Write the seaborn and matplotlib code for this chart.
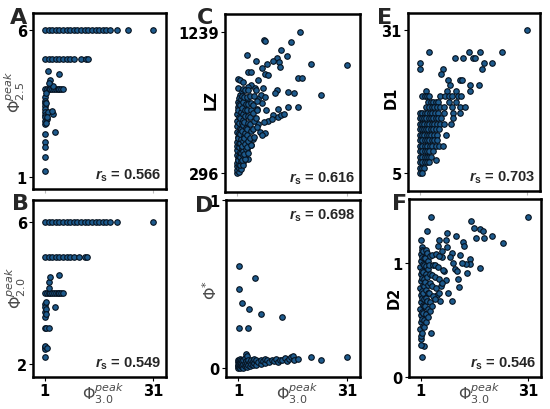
import matplotlib
matplotlib.use("Agg")
import matplotlib.pyplot as plt
import seaborn as sns
import pandas as pd

# ---------------- data ----------------
# Panel A: Phi_peak_3.0 (x) vs Phi_peak_2.5 (y)
a_x = [1, 2, 3, 4, 5, 6, 7, 8, 9, 10, 11, 12, 13, 14, 15, 16, 17, 18, 19, 21, 24, 31,
       1, 2, 3, 4, 5, 6, 7, 8, 9, 11, 12.4, 13,
       1, 1.5, 2, 2.5, 3, 3.5, 4, 4.5, 5, 5.5, 6,
       1.9, 2.4, 5.0, 3.3, 2.1,
       1, 1, 1, 1, 1, 1, 1, 1, 1, 1, 1, 1, 1, 1, 1,
       1.9, 3.3, 3.0, 1.5, 3.8, 1.6, 1.4, 1.3, 1.2]
a_y = [6, 6, 6, 6, 6, 6, 6, 6, 6, 6, 6, 6, 6, 6, 6, 6, 6, 6, 6, 6, 6, 6,
       5, 5, 5, 5, 5, 5, 5, 5, 5, 5, 5, 5,
       4, 4, 4, 4, 4, 4, 4, 4, 4, 4, 4,
       4.6, 4.3, 4.5, 4.1, 4.2,
       3.71, 3.6, 3.5, 3.43, 3.32, 3.2, 3.1, 3.04, 2.92, 2.81, 2.47, 2.19, 2.02, 1.68, 1.19,
       3.2, 3.15, 3.25, 2.98, 2.53, 3.05, 3.5, 2.85, 3.85]

# Panel B: Phi_peak_3.0 (x) vs Phi_peak_2.0 (y)
b_x = [1, 2, 3, 4, 5, 6, 7, 8, 9, 10, 11, 12, 13, 14, 15, 16, 17, 18, 19, 21, 31,
       1, 2, 3, 4, 5, 6, 7, 8, 9, 10.5, 12, 12.6,
       1, 1.5, 2, 2.5, 3, 3.5, 4, 4.5, 5, 5.5, 6,
       2.2, 2.4, 5.0, 2.0,
       1, 1, 1, 1, 1, 1, 1, 1,
       1.3, 1.4, 3.75, 1.3, 2.2, 1.1, 1.2, 1.5]
b_y = [6, 6, 6, 6, 6, 6, 6, 6, 6, 6, 6, 6, 6, 6, 6, 6, 6, 6, 6, 6, 6,
       5, 5, 5, 5, 5, 5, 5, 5, 5, 5, 5, 5,
       4, 4, 4, 4, 4, 4, 4, 4, 4, 4, 4,
       4.3, 4.45, 4.5, 4.15,
       3.69, 3.6, 3.46, 3.32, 3.0, 2.47, 2.42, 2.19,
       3.55, 3.4, 3.6, 3.0, 3.0, 2.5, 3.75, 2.44]

# Panel C: Phi_peak_3.0 (x) vs LZ (y)
c_points = [
    (18.2, 1239), (8.3, 1183), (8.6, 1176), (15.7, 1169), (12.9, 1120), (3.6, 1086),
    (11.8, 1064), (14.5, 1075), (6.1, 1048), (10.9, 1046), (12.3, 1037), (21.1, 1023),
    (31.0, 1019), (7.7, 997), (9.1, 1023), (12.6, 1006), (4.0, 970), (4.9, 970),
    (8.6, 961), (9.3, 954), (1.3, 925), (1.8, 918), (17.7, 929), (18.6, 934), (6.7, 918),
    (4.9, 884), (4.0, 873), (5.8, 862), (8.0, 866), (6.2, 850), (1.2, 862), (11.8, 851),
    (15.0, 839), (1.7, 817), (16.4, 828), (23.9, 817), (7.5, 817), (11.3, 828), (3.6, 794),
    (6.8, 794), (8.6, 805), (1.3, 772), (7.7, 761), (12.2, 727), (14.9, 738), (17.6, 738),
    (9.0, 716), (6.3, 727), (10.7, 682), (12.1, 671), (13.0, 682), (13.9, 693), (9.5, 642),
    (8.2, 637), (10.4, 660), (6.8, 626), (7.2, 570), (8.6, 565), (7.7, 548), (5.4, 525),
    (4.7, 480), (3.6, 457), (2.6, 368), (4.0, 390), (3.1, 412),
    (1.0, 296), (1.1, 318), (0.9, 342), (1.0, 365), (1.2, 392), (1.0, 418), (0.9, 447),
    (1.1, 475), (1.0, 503), (1.2, 536), (1.0, 571), (0.9, 608), (1.1, 645), (1.0, 690),
    (1.2, 735), (1.5, 305), (1.4, 331), (1.6, 356), (1.3, 384), (1.5, 411), (1.7, 439),
    (1.4, 468), (1.6, 497), (1.3, 529), (1.5, 562), (1.7, 598), (1.4, 633), (1.6, 672),
    (1.3, 714), (1.5, 756), (1.4, 800), (2.0, 322), (1.9, 350), (2.1, 378), (1.8, 405),
    (2.0, 433), (2.2, 462), (1.9, 494), (2.1, 526), (1.8, 559), (2.0, 593), (2.2, 628),
    (1.9, 667), (2.1, 705), (1.8, 748), (2.0, 792), (2.2, 843), (2.6, 352), (2.4, 384),
    (2.7, 414), (2.5, 446), (2.3, 478), (2.6, 511), (2.8, 545), (2.4, 580), (2.6, 616),
    (2.5, 652), (2.7, 690), (2.4, 729), (2.6, 770), (2.3, 812), (2.5, 858), (2.7, 905),
    (3.2, 387), (3.0, 421), (3.3, 455), (3.1, 491), (2.9, 527), (3.2, 563), (3.4, 600),
    (3.0, 638), (3.2, 676), (3.1, 716), (3.3, 757), (3.0, 802), (3.2, 848), (3.9, 430),
    (3.7, 468), (4.0, 508), (3.8, 549), (3.6, 590), (3.9, 632), (4.1, 674), (3.7, 717),
    (3.9, 760), (3.8, 806), (4.0, 852), (4.7, 486), (4.5, 530), (4.8, 576), (4.6, 622),
    (4.4, 668), (4.7, 714), (4.9, 762), (4.5, 812), (5.5, 538), (5.3, 590), (5.6, 644),
    (5.4, 698), (5.2, 752), (5.5, 808), (6.4, 604), (6.2, 662), (6.5, 720), (6.3, 780),
]

# Panel D: Phi_peak_3.0 (x) vs Phi* (y)
d_points = [
    (1.2, 0.606), (5.7, 0.538), (1.2, 0.472), (2.1, 0.386), (3.9, 0.353), (7.4, 0.319),
    (13.1, 0.305), (1.2, 0.239), (3.7, 0.239),
    (1.0, 0.0), (1.0, 0.01), (1.0, 0.02), (1.0, 0.035), (1.0, 0.05), (1.3, 0.005),
    (1.3, 0.025), (1.3, 0.045), (1.6, 0.0), (1.6, 0.015), (1.6, 0.035), (1.6, 0.055),
    (1.9, 0.01), (1.9, 0.03), (1.9, 0.05), (2.2, 0.005), (2.2, 0.02), (2.2, 0.04),
    (2.5, 0.0), (2.5, 0.025), (2.5, 0.045), (2.8, 0.01), (2.8, 0.03), (2.8, 0.06),
    (3.1, 0.015), (3.1, 0.04), (3.1, 0.085), (3.4, 0.005), (3.4, 0.03), (3.4, 0.07),
    (3.8, 0.02), (3.8, 0.045), (4.2, 0.01), (4.2, 0.035), (4.6, 0.025), (4.6, 0.05),
    (5.0, 0.015), (5.0, 0.04), (5.5, 0.03), (5.5, 0.055), (6.0, 0.02), (6.0, 0.045),
    (6.6, 0.035), (7.2, 0.025), (7.2, 0.05), (7.8, 0.04), (8.4, 0.03), (8.4, 0.055),
    (9.0, 0.045), (9.6, 0.035), (10.2, 0.05), (10.8, 0.04), (11.4, 0.055), (12.0, 0.035),
    (12.6, 0.05), (13.2, 0.045), (13.8, 0.06), (14.4, 0.04), (15.0, 0.055), (15.5, 0.065),
    (16.0, 0.074), (16.4, 0.05), (17.4, 0.054), (21.0, 0.064), (23.9, 0.05), (31.0, 0.064),
]

# Panel E: Phi_peak_3.0 (x) vs D1 (y)
e_points = [
    (31.0, 31), (3.6, 27), (14.7, 27), (17.7, 27), (23.9, 27),
    (10.7, 26), (13.0, 26), (15.9, 26), (16.4, 26), (1.0, 25), (18.8, 25), (21.1, 25),
    (1.0, 24), (7.5, 24), (18.2, 24), (7.0, 23), (8.9, 22), (12.1, 22), (12.8, 22),
    (9.4, 21), (14.9, 21), (17.5, 21), (2.7, 20), (8.6, 20), (11.2, 20), (14.9, 20),
    (1.5, 19), (2.4, 19), (3.0, 19), (3.5, 19), (6.5, 19), (8.0, 19), (9.0, 19),
    (10.0, 19), (11.5, 19), (12.5, 19),
    (3.2, 18), (4.0, 18), (4.7, 18), (5.5, 18), (6.2, 18), (9.0, 18), (11.2, 18),
    (2.8, 17), (3.5, 17), (4.3, 17), (5.0, 17), (5.8, 17), (6.5, 17), (7.8, 17),
    (10.1, 17), (12.3, 17), (13.6, 17),
    (1.0, 16), (1.7, 16), (2.4, 16), (3.0, 16), (3.7, 16), (4.4, 16), (5.2, 16),
    (6.0, 16), (7.8, 16), (10.3, 16), (12.2, 16),
    (1.0, 15), (1.6, 15), (2.2, 15), (2.8, 15), (3.5, 15), (4.1, 15), (4.8, 15),
    (5.5, 15), (6.2, 15), (6.9, 15), (10.2, 15),
    (1.0, 14), (1.6, 14), (2.2, 14), (2.9, 14), (3.6, 14), (4.3, 14), (5.0, 14),
    (5.8, 14), (6.6, 14), (7.6, 14), (9.6, 14),
    (1.0, 13), (1.6, 13), (2.2, 13), (2.8, 13), (3.4, 13), (4.1, 13), (4.7, 13),
    (5.5, 13), (6.4, 13),
    (1.0, 12), (1.6, 12), (2.2, 12), (2.9, 12), (3.5, 12), (4.2, 12), (4.9, 12),
    (5.8, 12), (8.3, 12),
    (1.0, 11), (1.6, 11), (2.3, 11), (2.9, 11), (3.6, 11), (4.3, 11), (5.0, 11), (5.9, 11),
    (1.0, 10), (1.7, 10), (2.4, 10), (3.0, 10), (3.7, 10), (4.4, 10), (5.4, 10),
    (6.3, 10), (7.4, 10),
    (1.0, 9), (1.6, 9), (2.3, 9), (3.0, 9), (3.6, 9), (4.6, 9),
    (1.0, 8), (1.6, 8), (2.3, 8), (2.9, 8), (3.6, 8), (4.2, 8),
    (1.0, 7), (1.6, 7), (2.3, 7), (3.0, 7), (3.6, 7), (5.6, 7.4),
    (1.0, 6), (1.6, 6), (2.1, 6), (1.0, 5), (1.5, 5),
]

# Panel F: Phi_peak_3.0 (x) vs D2 (y)
f_points = [
    (3.8, 1.405), (31.0, 1.405), (14.9, 1.37), (15.8, 1.31), (17.6, 1.30), (18.2, 1.28),
    (18.6, 1.22), (20.9, 1.236), (23.9, 1.175), (2.7, 1.28), (1.1, 1.20), (8.4, 1.265),
    (10.9, 1.236), (16.5, 1.22), (12.8, 1.18), (13.0, 1.15), (6.0, 1.20), (7.9, 1.20),
    (1.4, 1.14), (5.9, 1.15), (8.4, 1.14), (9.6, 1.09), (11.9, 1.07), (14.6, 1.03),
    (14.6, 0.99), (13.7, 0.99), (17.4, 0.953), (13.8, 0.91), (11.4, 0.86), (11.6, 0.787),
    (8.5, 0.74), (9.6, 0.67), (6.4, 0.67), (3.8, 0.385), (1.3, 0.175), (1.9, 0.27),
    (1.0, 0.28), (1.1, 0.33), (10.5, 0.95), (9.0, 1.05), (12.5, 1.0), (10.0, 1.0),
    (7.0, 1.05), (11.0, 0.93), (8.0, 0.85), (7.5, 0.93), (6.5, 0.80), (5.5, 0.72),
    (1.0, 0.36), (0.9, 0.42), (1.1, 0.48), (1.0, 0.54), (0.9, 0.60), (1.1, 0.66),
    (1.0, 0.72), (0.9, 0.78), (1.1, 0.84), (1.0, 0.90), (0.9, 0.96), (1.1, 1.02), (1.0, 1.08),
    (1.4, 0.39), (1.5, 0.45), (1.3, 0.51), (1.4, 0.57), (1.5, 0.63), (1.3, 0.69),
    (1.4, 0.75), (1.5, 0.81), (1.3, 0.87), (1.4, 0.93), (1.5, 0.99), (1.3, 1.05), (1.4, 1.11),
    (1.8, 0.44), (1.9, 0.50), (1.7, 0.56), (1.8, 0.62), (1.9, 0.68), (1.7, 0.74),
    (1.8, 0.80), (1.9, 0.86), (1.7, 0.92), (1.8, 0.98), (1.9, 1.04), (1.7, 1.10),
    (2.3, 0.48), (2.4, 0.55), (2.2, 0.62), (2.3, 0.69), (2.4, 0.76), (2.2, 0.83),
    (2.3, 0.90), (2.4, 0.97), (2.2, 1.04), (2.3, 1.11),
    (2.9, 0.53), (3.0, 0.60), (2.8, 0.67), (2.9, 0.74), (3.0, 0.81), (2.8, 0.88),
    (2.9, 0.95), (3.0, 1.02), (2.8, 1.09),
    (3.5, 0.58), (3.6, 0.66), (3.4, 0.74), (3.5, 0.82), (3.6, 0.90), (3.4, 0.98), (3.5, 1.06),
    (4.2, 0.62), (4.3, 0.71), (4.1, 0.80), (4.2, 0.89), (4.3, 0.98), (4.1, 1.07),
    (5.0, 0.68), (5.1, 0.78), (4.9, 0.88), (5.0, 0.98), (5.1, 1.08),
    (6.0, 0.74), (6.1, 0.86), (5.9, 0.96), (6.0, 1.06),
    (7.0, 0.82), (7.1, 0.94), (6.9, 1.10),
]

rs_labels = ["0.566", "0.549", "0.616", "0.698", "0.703", "0.546"]
panel_letters = ["A", "B", "C", "D", "E", "F"]
x_ticks = [1, 31]

# ---------------- style ----------------
sns.set_style("ticks")
plt.rcParams["font.family"] = ["DejaVu Sans"]
plt.rcParams["mathtext.fontset"] = "custom"
plt.rcParams["mathtext.it"] = "Liberation Sans:style=italic:weight=bold"
plt.rcParams["mathtext.bf"] = "Liberation Sans:weight=bold"
plt.rcParams["mathtext.rm"] = "Liberation Sans:weight=bold"

fig = plt.figure(figsize=(5.5, 4.1), dpi=100)
W, H = 550.0, 410.0


def make_ax(l, r, t, b):
    return fig.add_axes([l / W, 1 - b / H, (r - l) / W, (b - t) / H])


axA = make_ax(33, 166, 14, 190)
axB = make_ax(33, 166, 201, 378)
axC = make_ax(225, 360, 15, 193)
axD = make_ax(226, 360, 201, 378)
axE = make_ax(408, 540, 14, 192)
axF = make_ax(409, 541, 200, 378)

marker_kw = dict(s=16, color="#1d5a8c", edgecolor="#06121f", linewidth=0.8, legend=False)


def scatter(ax, xs, ys):
    df = pd.DataFrame({"x": xs, "y": ys})
    sns.scatterplot(data=df, x="x", y="y", ax=ax, **marker_kw)


def unzip(points):
    return [p[0] for p in points], [p[1] for p in points]


scatter(axA, a_x, a_y)
scatter(axB, b_x, b_y)
scatter(axC, *unzip(c_points))
scatter(axD, *unzip(d_points))
scatter(axE, *unzip(e_points))
scatter(axF, *unzip(f_points))

ylims = {
    "A": ((0.59, 6.58), [1, 6]),
    "B": ((1.63, 6.62), [2, 6]),
    "C": ((169, 1359), [296, 1239]),
    "D": ((-0.054, 1.0), [0, 1]),
    "E": ((1.73, 34.1), [5, 31]),
    "F": ((0.0, 1.56), [0, 1]),
}
axes = {"A": axA, "B": axB, "C": axC, "D": axD, "E": axE, "F": axF}

gray = "#4a4a4a"
ylabels = {
    "A": (r"$\Phi^{peak}_{2.5}$", -0.045, 0.56, False),
    "B": (r"$\Phi^{peak}_{2.0}$", -0.04, 0.51, False),
    "C": ("LZ", -0.05, 0.52, True),
    "D": (r"$\Phi^{*}$", -0.045, 0.50, False),
    "E": ("D1", -0.068, 0.53, True),
    "F": ("D2", -0.053, 0.45, True),
}

for k, ax in axes.items():
    (lo, hi), yt = ylims[k]
    ax.set_xlim(-2.3, 34.5)
    ax.set_ylim(lo, hi)
    ax.set_yticks(yt)
    ax.set_xticks(x_ticks)
    ax.set_xticklabels([str(v) for v in x_ticks])
    for sp in ax.spines.values():
        sp.set_visible(True)
        sp.set_linewidth(1.8)
        sp.set_color("black")
    ax.tick_params(axis="both", length=3, width=0.8, pad=1.5, labelsize=10.5, colors="black")
    for lab in ax.get_yticklabels() + ax.get_xticklabels():
        lab.set_fontweight("bold")
    text, lx, ly, bold = ylabels[k]
    if bold:
        ax.set_ylabel(text, fontsize=10.5, fontweight="bold", color="black", family="DejaVu Sans")
    else:
        ax.set_ylabel(text, fontsize=11.5, color=gray, math_fontfamily="dejavusans")
    ax.yaxis.set_label_coords(lx, ly)
    if k in ("A", "C", "E"):
        ax.tick_params(axis="x", labelbottom=False, color="#bbbbbb")
        ax.set_xlabel("")
    else:
        ax.set_xlabel(r"$\Phi^{peak}_{3.0}$", fontsize=11.5, color=gray, math_fontfamily="dejavusans")
        ax.xaxis.set_label_coords(0.53, -0.02)

for k, rs in zip(panel_letters, rs_labels):
    ax = axes[k]
    if k == "D":
        ax.text(0.965, 0.965, r"$r_{\mathrm{s}}$ = " + rs, transform=ax.transAxes, ha="right",
                va="top", fontsize=10.5, fontweight="bold", family="Liberation Sans")
    else:
        ax.text(0.965, 0.035, r"$r_{\mathrm{s}}$ = " + rs, transform=ax.transAxes, ha="right",
                va="bottom", fontsize=10.5, fontweight="bold", family="Liberation Sans")

letter_pos = {"A": (10, 24), "B": (12, 210), "C": (197, 24), "D": (195, 212), "E": (377, 24), "F": (392, 210)}
for k in panel_letters:
    px, py = letter_pos[k]
    fig.text(px / W, 1 - py / H, k, fontsize=16, fontweight="bold", va="baseline", ha="left")

fig.savefig("out.png", dpi=100)
